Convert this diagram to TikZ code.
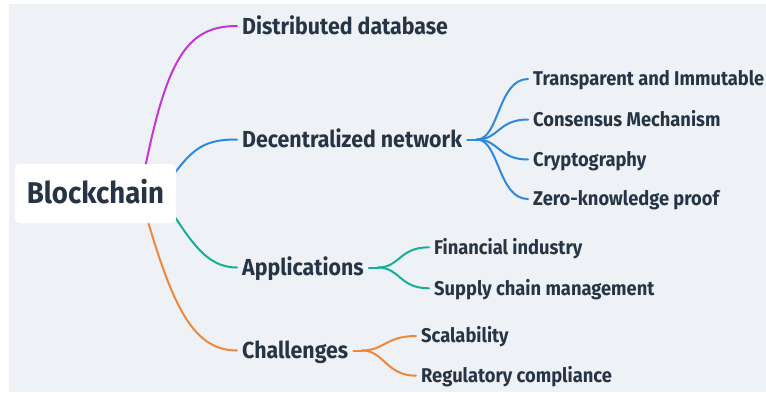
\documentclass[tikz,border=0pt]{standalone}
\usepackage{fontspec}
\setmainfont{Fira Sans}[FakeStretch=0.92]
\definecolor{ink}{HTML}{263445}
\definecolor{canvas}{HTML}{EEF2F6}
\definecolor{cPurple}{HTML}{C236D6}
\definecolor{cBlue}{HTML}{2E88DE}
\definecolor{cTeal}{HTML}{17AE97}
\definecolor{cOrange}{HTML}{EE873A}
\begin{document}
\begin{tikzpicture}[x=1pt,y=-1pt,
  txt/.style={text=ink, inner xsep=5pt, inner ysep=0pt, text depth=0pt, anchor=west},
  topic/.style={txt, font=\bfseries\fontsize{23.2}{28}\selectfont, text height=16pt},
  sub/.style={txt, font=\bfseries\fontsize{19.9}{24}\selectfont, text height=13.7pt},
  rootbox/.style={fill=white, rounded corners=4pt, minimum width=161pt, minimum height=59pt,
    inner sep=0pt, text=ink, text height=20.7pt, text depth=0pt,
    font=\bfseries\fontsize{30}{36}\selectfont},
  link/.style={line width=2pt, line cap=round}]
\useasboundingbox (0,0) rectangle (766,392);
\fill[canvas] (9,4) rectangle (766,392);

% main topics
\node[topic] (dd) at (237,26) {Distributed database};
\node[topic] (dn) at (237,139.5) {Decentralized network};
\node[topic] (ap) at (237,267.5) {Applications};
\node[topic] (ch) at (237,350.5) {Challenges};

% subtopics
\node[sub] (tr) at (528,79) {Transparent and Immutable};
\node[sub] (cm) at (528,119.5) {Consensus Mechanism};
\node[sub] (cr) at (528,159.5) {Cryptography};
\node[sub] (zk) at (528,199) {Zero-knowledge proof};
\node[sub] (fi) at (429,247.3) {Financial industry};
\node[sub] (sc) at (429,288.3) {Supply chain management};
\node[sub] (sb) at (416,336) {Scalability};
\node[sub] (rc) at (416,375.7) {Regulatory compliance};

% branch origins behind the central box, and fork points
\coordinate (oP) at (140,194);
\coordinate (oB) at (160,194);
\coordinate (oT) at (160,194);
\coordinate (oO) at (140,194);
\coordinate (fB) at (477,139.5);
\coordinate (fT) at (378,267.5);
\coordinate (fO) at (362,350.5);

% central topic links
\draw[link, cPurple] (oP) .. controls (165,60) and (185,26) .. (dd.west);
\draw[link, cBlue] (oB) .. controls (190,150) and (200,139.5) .. (dn.west);
\draw[link, cTeal] (oT) .. controls (190,240) and (205,267.5) .. (ap.west);
\draw[link, cOrange] (oO) .. controls (170,300) and (190,350.5) .. (ch.west);

% decentralized network branch
\draw[link, cBlue] (dn.east) -- (fB);
\foreach \n in {tr,cm,cr,zk}
  \draw[link, cBlue] (fB) .. controls +(22,0) and +(-30,0) .. (\n.west);

% applications branch
\draw[link, cTeal] (ap.east) -- (fT);
\foreach \n in {fi,sc}
  \draw[link, cTeal] (fT) .. controls +(22,0) and +(-30,0) .. (\n.west);

% challenges branch
\draw[link, cOrange] (ch.east) -- (fO);
\foreach \n in {sb,rc}
  \draw[link, cOrange] (fO) .. controls +(22,0) and +(-30,0) .. (\n.west);

% central topic
\node[rootbox] (root) at (95.5,193.5) {Blockchain};
\end{tikzpicture}
\end{document}
